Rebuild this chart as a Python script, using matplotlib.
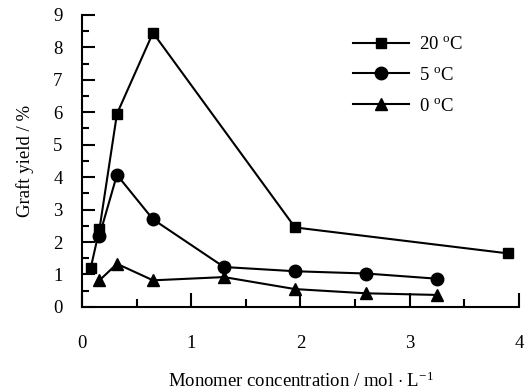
import matplotlib
matplotlib.use("Agg")
import matplotlib.pyplot as plt
from matplotlib.ticker import MultipleLocator

plt.rcParams['font.family'] = ['Liberation Serif', 'DejaVu Serif']
plt.rcParams['mathtext.fontset'] = 'custom'
plt.rcParams['mathtext.rm'] = 'Liberation Serif'
plt.rcParams['mathtext.it'] = 'Liberation Serif:italic'

# data
x_20 = [0.08, 0.16, 0.32, 0.65, 1.95, 3.9]
y_20 = [1.2, 2.4, 5.95, 8.45, 2.45, 1.65]
x_5 = [0.16, 0.32, 0.65, 1.3, 1.95, 2.6, 3.25]
y_5 = [2.2, 4.07, 2.7, 1.23, 1.1, 1.03, 0.87]
x_0 = [0.16, 0.32, 0.65, 1.3, 1.95, 2.6, 3.25]
y_0 = [0.82, 1.33, 0.82, 0.92, 0.55, 0.42, 0.37]
labels = ["20 $^{\\mathrm{o}}$C", "5 $^{\\mathrm{o}}$C", "0 $^{\\mathrm{o}}$C"]

fs = 13.5
fig = plt.figure(figsize=(5.29, 3.92), dpi=100)
ax = fig.add_axes([0.155, 0.217, 0.826, 0.745])

ax.plot(x_20, y_20, color='black', lw=1.5, marker='s', ms=7.5, label=labels[0])
ax.plot(x_5, y_5, color='black', lw=1.5, marker='o', ms=9, label=labels[1])
ax.plot(x_0, y_0, color='black', lw=1.5, marker='^', ms=9, label=labels[2])

ax.set_xlim(0, 4)
ax.set_ylim(0, 9)
ax.xaxis.set_major_locator(MultipleLocator(1))
ax.xaxis.set_minor_locator(MultipleLocator(0.5))
ax.yaxis.set_major_locator(MultipleLocator(1))
ax.yaxis.set_minor_locator(MultipleLocator(0.5))
ax.tick_params(axis='x', which='major', direction='in', length=10, width=1.5, pad=20, labelsize=fs)
ax.tick_params(axis='x', which='minor', direction='in', length=6, width=1.5)
ax.tick_params(axis='y', which='major', direction='in', length=9, width=1.5, pad=14, labelsize=fs)
ax.tick_params(axis='y', which='minor', direction='in', length=5, width=1.5)

for side in ['top', 'right']:
    ax.spines[side].set_visible(False)
for side in ['left', 'bottom']:
    ax.spines[side].set_linewidth(1.5)

ax.set_xlabel("Monomer concentration / mol $\\cdot$ L$^{-1}$", fontsize=fs, labelpad=14)
ax.set_ylabel("Graft yield / %", fontsize=fs, labelpad=14)

ax.legend(loc='upper right', bbox_to_anchor=(0.91, 0.985), frameon=False, fontsize=fs,
          handlelength=3.0, labelspacing=0.72, handletextpad=0.5)

fig.savefig("out.png", dpi=100)
